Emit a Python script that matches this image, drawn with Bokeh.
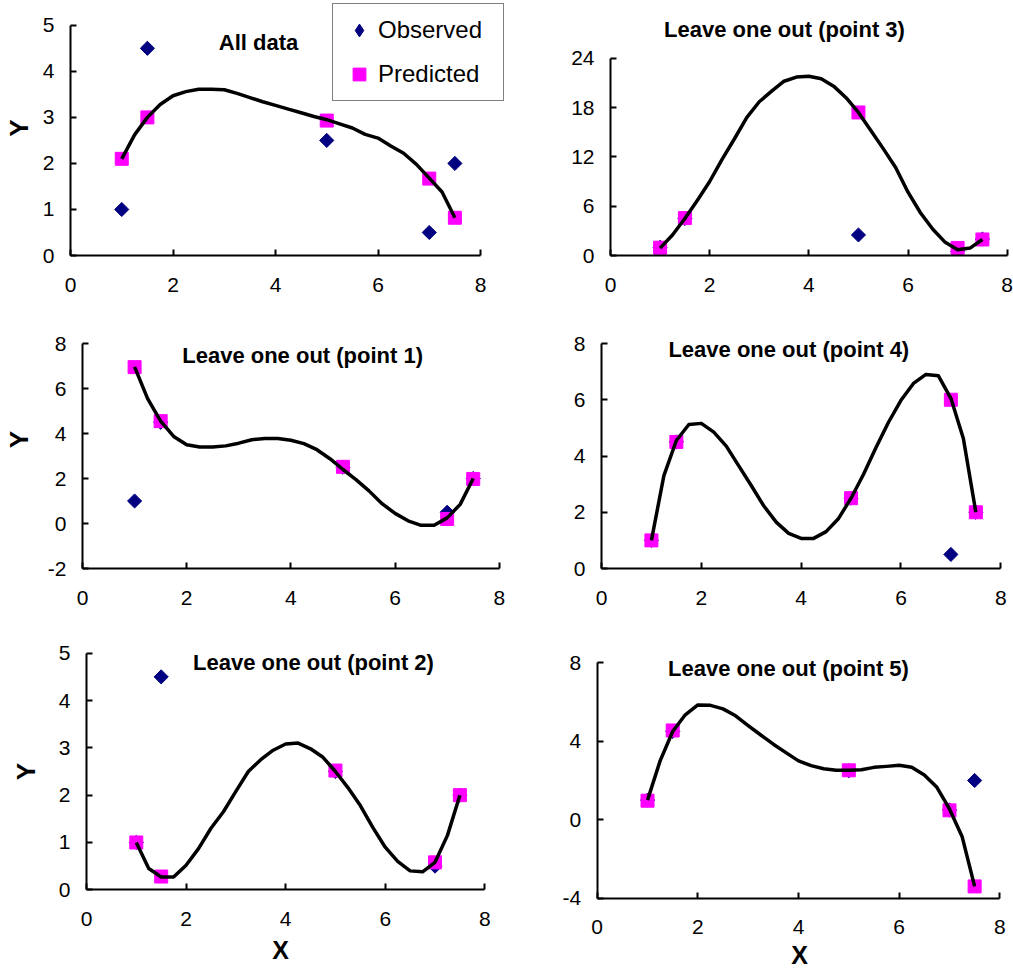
import math
from bokeh.plotting import figure
from bokeh.layouts import column, row
from bokeh.models import Range1d, FixedTicker, Legend, LegendItem, Label, CustomJSTickFormatter
from bokeh.embed import file_html
from bokeh.resources import INLINE

# ---------------- data ----------------
x_obs = [1.0, 1.5, 5.0, 7.0, 7.5]
y_obs = [1.0, 4.5, 2.5, 0.5, 2.0]
x_pred = [1.0, 1.5, 5.0, 7.0, 7.5]

pred_all = [2.1, 3.0, 2.93, 1.67, 0.82]
pred_p3 = [0.95, 4.55, 17.4, 0.92, 1.95]
pred_p1 = [6.95, 4.55, 2.52, 0.2, 1.98]
pred_p4 = [1.0, 4.5, 2.5, 6.0, 2.0]
pred_p2 = [1.0, 0.28, 2.52, 0.58, 2.0]
pred_p5 = [0.97, 4.55, 2.52, 0.48, -3.4]

curve_x = [1.0, 1.25, 1.5, 1.75, 2.0, 2.25, 2.5, 2.75, 3.0, 3.25, 3.5, 3.75, 4.0,
           4.25, 4.5, 4.75, 5.0, 5.25, 5.5, 5.75, 6.0, 6.25, 6.5, 6.75, 7.0, 7.25, 7.5]
curve_all = [2.1, 2.62, 3.0, 3.28, 3.47, 3.56, 3.61, 3.61, 3.6, 3.52, 3.43, 3.34, 3.26,
             3.18, 3.1, 3.02, 2.95, 2.86, 2.77, 2.63, 2.55, 2.38, 2.22, 1.98, 1.68, 1.38, 0.82]
curve_p3 = [0.9, 2.5, 4.5, 6.7, 9.0, 11.7, 14.2, 16.8, 18.7, 20.0, 21.2, 21.7, 21.8,
            21.5, 20.6, 19.2, 17.4, 15.2, 13.0, 10.7, 7.7, 5.2, 3.2, 1.6, 0.7, 0.9, 1.95]
curve_p1 = [6.96, 5.55, 4.55, 3.87, 3.5, 3.4, 3.4, 3.45, 3.57, 3.72, 3.78, 3.78, 3.7,
            3.55, 3.28, 2.88, 2.4, 1.95, 1.45, 0.88, 0.45, 0.12, -0.08, -0.08, 0.25, 0.85, 2.0]
curve_p4 = [1.0, 3.3, 4.55, 5.12, 5.16, 4.85, 4.35, 3.65, 2.95, 2.23, 1.65, 1.25, 1.07,
            1.07, 1.31, 1.78, 2.5, 3.35, 4.3, 5.2, 5.98, 6.58, 6.9, 6.85, 6.05, 4.62, 2.0]
curve_p2 = [1.0, 0.45, 0.27, 0.27, 0.52, 0.87, 1.3, 1.65, 2.08, 2.5, 2.75, 2.95, 3.08,
            3.1, 2.98, 2.8, 2.5, 2.16, 1.78, 1.32, 0.9, 0.6, 0.4, 0.38, 0.58, 1.15, 2.0]
curve_p5 = [1.0, 3.0, 4.5, 5.35, 5.85, 5.83, 5.65, 5.3, 4.8, 4.32, 3.85, 3.42, 3.0,
            2.76, 2.6, 2.52, 2.52, 2.55, 2.67, 2.72, 2.78, 2.68, 2.28, 1.65, 0.55, -0.85, -3.4]

titles = ["All data", "Leave one out (point 3)", "Leave one out (point 1)",
          "Leave one out (point 4)", "Leave one out (point 2)", "Leave one out (point 5)"]
x_ticks = [0, 2, 4, 6, 8]
y_ticks_all = [0, 1, 2, 3, 4, 5]
y_ticks_p3 = [0, 6, 12, 18, 24]
y_ticks_p1 = [-2, 0, 2, 4, 6, 8]
y_ticks_p4 = [0, 2, 4, 6, 8]
y_ticks_p2 = [0, 1, 2, 3, 4, 5]
y_ticks_p5 = [-4, 0, 4, 8]

# ---------------- layout (pixel geometry) ----------------
# cell x0, cell y0, cell w, cell h, y-axis px, x=8 px, ymin px, ymax px,
# title centre (x, y), y-label standoff, x-label centre (x, y) or None
GEOM = [
    (0, 0, 506, 310, 70, 480, 257, 25, 258, 42, 6, None),
    (506, 0, 507, 310, 610, 1006.7, 255, 57.7, 784, 28.7, None, None),
    (0, 310, 506, 315, 79.3, 499, 568.3, 343.3, 301, 355, 11, None),
    (506, 310, 507, 315, 600.7, 1000, 568.3, 343.3, 788, 349, None, None),
    (0, 625, 506, 345, 86, 484.3, 889.3, 652.7, 313, 662, 15, (280, 949)),
    (506, 625, 507, 345, 596.7, 999.3, 897.7, 662.3, 788, 668, None, (799, 954)),
]

FONT = "Liberation Sans"


def make_panel(idx, pred, curve, yticks, with_legend=False):
    (x0, y0, w, h, ax_px, x8_px, ymin_px, ymax_px, tcx, tcy, ylab_s, xlab) = GEOM[idx]
    ymin, ymax = yticks[0], yticks[-1]
    ppx = (x8_px - ax_px) / 8.0
    ppy = (ymin_px - ymax_px) / float(ymax - ymin)
    pinned = xlab is not None
    if not pinned:
        left = round(ax_px - x0)
        bottom = round(y0 + h - ymin_px)
        x_start = 0.0
        y_start = ymin
    else:
        # frame fills the whole cell; both axes pinned at the data origin
        left = 0
        bottom = 0
        x_start = -(ax_px - x0) / ppx
        y_start = ymin - (y0 + h - ymin_px) / ppy
    frame_w = w - left
    frame_h = h - bottom
    p = figure(width=w, height=h, output_backend="svg", toolbar_location=None, title=None,
               x_range=Range1d(x_start, x_start + frame_w / ppx),
               y_range=Range1d(y_start, y_start + frame_h / ppy),
               min_border_left=left, min_border_right=0, min_border_top=0,
               min_border_bottom=bottom)
    p.outline_line_color = None
    p.xgrid.visible = False
    p.ygrid.visible = False
    p.background_fill_color = "white"
    p.border_fill_color = "white"

    fmt = CustomJSTickFormatter(code="return tick.toString();")
    for ax in (p.xaxis[0], p.yaxis[0]):
        ax.axis_line_width = 2
        ax.axis_line_color = "black"
        ax.major_tick_line_width = 2
        ax.major_tick_line_color = "black"
        ax.major_tick_in = 6
        ax.major_tick_out = 0
        ax.minor_tick_line_color = None
        ax.major_label_text_font = FONT
        ax.major_label_text_font_size = "21px"
        ax.major_label_text_color = "black"
        ax.axis_label_text_font = FONT
        ax.axis_label_text_font_size = "26px"
        ax.axis_label_text_font_style = "bold"
        ax.axis_label_text_color = "black"
        ax.formatter = fmt

    p.xaxis.ticker = FixedTicker(ticks=x_ticks)
    p.xaxis.bounds = (x_ticks[0], x_ticks[-1])
    p.xaxis.major_label_standoff = 22
    p.yaxis.ticker = FixedTicker(ticks=yticks)
    p.yaxis.bounds = (ymin, ymax)
    p.yaxis.major_label_standoff = 16
    if pinned:
        p.xaxis.fixed_location = ymin
        p.yaxis.fixed_location = x_ticks[0]

    if ylab_s is not None:
        p.yaxis.axis_label = "Y"
        p.yaxis.axis_label_standoff = ylab_s

    if with_legend:
        # key glyph (diamond) sits underneath the observed markers
        r_key = p.scatter(x_obs, y_obs, marker="diamond", size=11,
                          fill_color="#000080", line_color="#000080")
    r_obs = p.scatter(x_obs, y_obs, marker="square", angle=math.pi / 4, size=10,
                      fill_color="#000080", line_color="#000080")
    r_pred = p.scatter(x_pred, pred, marker="square", size=13,
                       fill_color="#FF00FF", line_color="#FF00FF")
    p.line(curve_x, curve, line_width=3.5, line_color="black", line_join="round")

    p.add_layout(Label(x=(tcx - ax_px) / ppx, y=ymin + (ymin_px - tcy) / ppy,
                       text=titles[idx], text_align="center", text_baseline="middle",
                       text_font=FONT, text_font_style="bold", text_font_size="22px",
                       text_color="black"))
    if xlab is not None:
        p.add_layout(Label(x=(xlab[0] - ax_px) / ppx, y=ymin - (xlab[1] - ymin_px) / ppy,
                           text="X", text_align="center", text_baseline="middle",
                           text_font=FONT, text_font_style="bold", text_font_size="25px",
                           text_color="black"))

    if with_legend:
        leg = Legend(items=[LegendItem(label="Observed", renderers=[r_key]),
                            LegendItem(label="Predicted", renderers=[r_pred])],
                     location=(262, 154), padding=10, spacing=12, margin=0,
                     glyph_width=32, glyph_height=32, label_height=32, label_width=115,
                     label_standoff=3, label_text_font=FONT, label_text_font_size="24px",
                     label_text_color="black",
                     border_line_color="black", border_line_width=1,
                     background_fill_color="white", background_fill_alpha=1.0)
        p.add_layout(leg)
    return p


p1 = make_panel(0, pred_all, curve_all, y_ticks_all, with_legend=True)
p2 = make_panel(1, pred_p3, curve_p3, y_ticks_p3)
p3 = make_panel(2, pred_p1, curve_p1, y_ticks_p1)
p4 = make_panel(3, pred_p4, curve_p4, y_ticks_p4)
p5 = make_panel(4, pred_p2, curve_p2, y_ticks_p2)
p6 = make_panel(5, pred_p5, curve_p5, y_ticks_p5)

layout = column(row(p1, p2, spacing=0), row(p3, p4, spacing=0), row(p5, p6, spacing=0), spacing=0)

open("out.html", "w").write(file_html(layout, INLINE))
